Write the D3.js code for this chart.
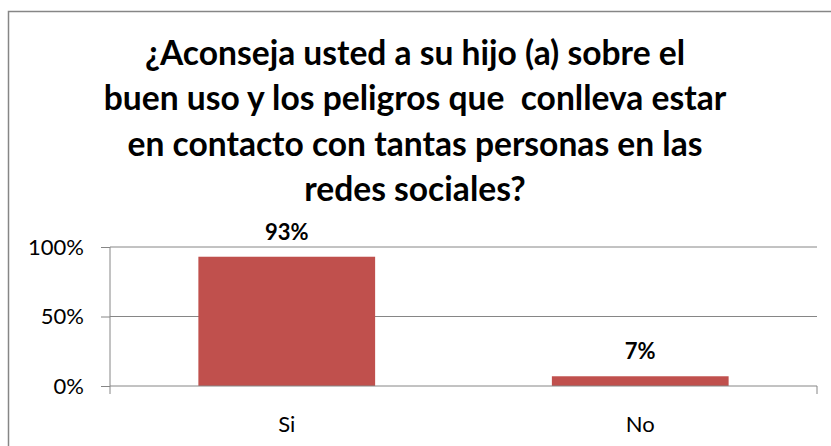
<!DOCTYPE html>
<html><head><meta charset="utf-8">
<script src="https://cdn.jsdelivr.net/npm/d3@7"></script>
<style>body{margin:0;background:#fff}svg{display:block}text{font-family:Lato,"Open Sans",sans-serif}</style>
</head><body>
<svg id="c" width="831" height="446"></svg>
<script>
const categories = ["Si", "No"];
const values = [0.93, 0.07];
const tickValues = [0, 0.5, 1];
const titleLines = ["¿Aconseja usted a su hijo (a) sobre el", "buen uso y los peligros que  conlleva estar", "en contacto con tantas personas en las", "redes sociales?"];

(function () {
const svg = d3.select("#c");
svg.append("rect").attr("x", 8.5).attr("y", 11.5).attr("width", 840).attr("height", 460)
  .attr("fill", "#fff").attr("stroke", "#868686").attr("stroke-width", 1.5);

const pLeft = 110, pRight = 817, pTop = 247, pBottom = 386;
const x = d3.scaleBand().domain(categories).range([pLeft, pRight]).paddingInner(0.5).paddingOuter(0.25);
const y = d3.scaleLinear().domain([0, 1]).range([pBottom, pTop]);

svg.append("g").selectAll("line").data(tickValues.filter(d => d > 0)).join("line")
  .attr("x1", pLeft).attr("x2", pRight).attr("y1", d => y(d)).attr("y2", d => y(d))
  .attr("stroke", "#868686").attr("stroke-width", 1);

svg.append("g").selectAll("rect").data(values).join("rect")
  .attr("x", (d, i) => x(categories[i])).attr("width", x.bandwidth())
  .attr("y", d => y(d)).attr("height", d => y(0) - y(d)).attr("fill", "#C0504D");

const yAxis = d3.axisLeft(y).tickValues(tickValues).tickFormat(d3.format(".0%")).tickSize(9).tickPadding(17);
const gy = svg.append("g").attr("transform", `translate(${pLeft},0)`).call(yAxis);
gy.select(".domain").attr("stroke", "#868686").attr("d", `M0,${pBottom + 8}V${pTop}`);
gy.selectAll(".tick line").attr("stroke", "#868686");
gy.selectAll(".tick text").attr("font-size", 22).attr("fill", "#000").attr("font-family", "Lato, sans-serif");

const xAxis = d3.axisBottom(x).tickSize(0).tickPadding(30);
const gx = svg.append("g").attr("transform", `translate(0,${pBottom})`).call(xAxis);
gx.select(".domain").attr("stroke", "#868686").attr("d", `M${pLeft},0H${pRight}V8`);
gx.selectAll(".tick text").attr("font-size", 22).attr("fill", "#000").attr("font-family", "Lato, sans-serif");

svg.append("g").selectAll("text").data(values).join("text")
  .attr("x", (d, i) => x(categories[i]) + x.bandwidth() / 2)
  .attr("y", d => y(d) - 17)
  .attr("text-anchor", "middle").attr("font-size", 22).attr("font-weight", "bold")
  .text(d => d3.format(".0%")(d));

const lineY = [65, 110, 156, 201];
const targetW = [537, 614, 576, 226];
const t = svg.append("g").selectAll("text").data(titleLines).join("text")
  .attr("x", 415).attr("y", (d, i) => lineY[i]).attr("text-anchor", "middle")
  .attr("font-size", 29).attr("font-weight", "bold").attr("fill", "#000")
  .style("white-space", "pre").text(d => d);
let ratio = 0;
t.each(function(d, i) { ratio += targetW[i] / this.getComputedTextLength(); });
ratio /= titleLines.length;
t.attr("font-size", 29 * ratio);
})();
</script>
</body></html>
